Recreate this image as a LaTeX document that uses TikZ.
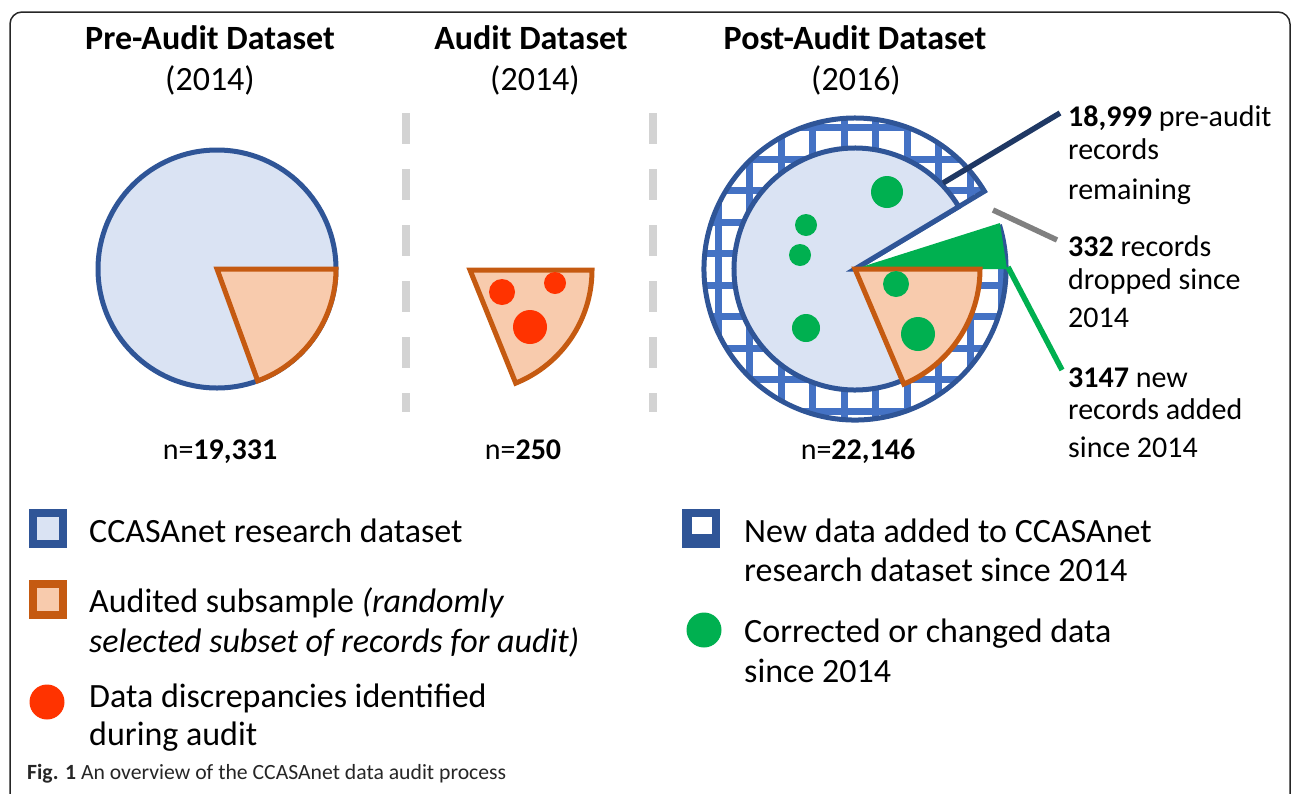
\documentclass[tikz,border=0pt]{standalone}
\usepackage{fontspec}
\setmainfont{Carlito}
\usetikzlibrary{calc}

\definecolor{ccasblue}{HTML}{2F5597}
\definecolor{ccasfill}{HTML}{DAE3F3}
\definecolor{gridblue}{HTML}{4472C4}
\definecolor{audline}{HTML}{C55A11}
\definecolor{audfill}{HTML}{F8CBAD}
\definecolor{discred}{HTML}{FF3300}
\definecolor{chggreen}{HTML}{00B050}
\definecolor{navyline}{HTML}{1F3864}
\definecolor{dropgray}{HTML}{808080}
\definecolor{sepgray}{HTML}{D3D3D3}

\tikzset{
    heading/.style={font=\fontsize{34}{40}\selectfont\bfseries, inner sep=0pt, text height=23.8pt, text depth=3.4pt},
    yearlbl/.style={font=\fontsize{34}{40}\selectfont, inner sep=0pt, text height=23.8pt, text depth=3.4pt},
    countlbl/.style={font=\fontsize{30}{36}\selectfont, inner sep=0pt, text height=21pt, text depth=3pt},
    note/.style={font=\fontsize{30}{36}\selectfont, anchor=west, inner sep=0pt, text height=21pt, text depth=3pt},
    keytext/.style={font=\fontsize{34}{40}\selectfont, anchor=west, inner sep=0pt, text height=23.8pt, text depth=3.4pt},
    keybox/.style={minimum width=30pt, minimum height=31pt, line width=8pt, inner sep=0pt},
    keydot/.style={circle, minimum size=35pt, inner sep=0pt},
    sep/.style={sepgray, line width=8pt, dash pattern=on 31pt off 25pt},
    callout/.style={line width=5.5pt}
}

\begin{document}
\begin{tikzpicture}[x=1pt, y=-1pt]
        \useasboundingbox (0,0) rectangle (1292,793);
        \draw[line width=1.5pt, black!85, rounded corners=12pt] (10,800) -- (10,12) -- (1290,12) -- (1290,800);

        \coordinate (pre) at (217,269);
        \coordinate (aud) at (470,270);
        \coordinate (post) at (855,269);

        \node[heading] (pre-title) at (210,39) {Pre-Audit Dataset};
        \node[yearlbl] (pre-year) at (210,80) {(2014)};
        \node[heading] (aud-title) at (531,39) {Audit Dataset};
        \node[yearlbl] (aud-year) at (535,80) {(2014)};
        \node[heading] (post-title) at (855,39) {Post-Audit Dataset};
        \node[yearlbl] (post-year) at (856,80) {(2016)};

        \filldraw[ccasblue, fill=ccasfill, line width=5pt] (pre) circle[radius=119];
        \filldraw[audline, fill=audfill, line width=5pt] (pre) -- +(0:119) arc[start angle=0, end angle=70, radius=119] -- cycle;

        \coordinate (sepA-top) at (406,113);
        \coordinate (sepA-bot) at (406,412);
        \coordinate (sepB-top) at (653,113);
        \coordinate (sepB-bot) at (653,412);
        \draw[sep] (sepA-top) -- (sepA-bot);
        \draw[sep] (sepB-top) -- (sepB-bot);

        \filldraw[audline, fill=audfill, line width=5pt] (aud) -- +(0:122) arc[start angle=0, end angle=68, radius=122] -- cycle;
        \fill[discred] (502,292) circle[radius=13];
        \fill[discred] (555,283) circle[radius=11];
        \fill[discred] (530,327) circle[radius=17];

        \begin{scope}
            \clip (post) -- +(-31:151) arc[start angle=-31, end angle=-377, radius=151] -- cycle;
            \fill[white] (690,100) rectangle (1020,440);
            \foreach \gx in {0,...,9}
                \draw[gridblue, line width=7pt] ({718+31.5*\gx},100) -- ++(0,340);
            \foreach \gy in {-5,...,4}
                \draw[gridblue, line width=7pt] (690,{285+31.5*\gy}) -- ++(330,0);
        \end{scope}
        \draw[ccasblue, line width=5pt] (post) +(-17:151) arc[start angle=-17, end angle=329, radius=151] -- (post);
        \filldraw[ccasblue, fill=ccasfill, line width=5pt] (post) -- +(-31:121) arc[start angle=-31, end angle=-360, radius=121] -- cycle;
        \fill[chggreen] (post) -- +(0:152) -- +(-17.6:152) -- cycle;
        \filldraw[audline, fill=audfill, line width=5pt] (post) -- +(0:125) arc[start angle=0, end angle=67, radius=125] -- cycle;
        \fill[chggreen] (887,192) circle[radius=16];
        \fill[chggreen] (806,225) circle[radius=11];
        \fill[chggreen] (800,255) circle[radius=11];
        \fill[chggreen] (806,328) circle[radius=14];
        \fill[chggreen] (896,284) circle[radius=13];
        \fill[chggreen] (918,334) circle[radius=17];

        \node[countlbl] (pre-n) at (220,450) {n=\textbf{19,331}};
        \node[countlbl] (aud-n) at (523,450) {n=\textbf{250}};
        \node[countlbl] (post-n) at (858,450) {n=\textbf{22,146}};

        \coordinate (keep-a) at (943,183);
        \coordinate (keep-b) at (1060,113);
        \coordinate (drop-a) at (993,210);
        \coordinate (drop-b) at (1057,240);
        \coordinate (add-a) at (1008,267);
        \coordinate (add-b) at (1062,370);
        \draw[callout, navyline] (keep-a) -- (keep-b);
        \draw[callout, dropgray] (drop-a) -- (drop-b);
        \draw[callout, chggreen] (add-a) -- (add-b);

        \node[note] (keep-1) at (1068,117) {\textbf{18,999} pre-audit};
        \node[note] (keep-2) at (1068,150) {records};
        \node[note] (keep-3) at (1068,190) {remaining};
        \node[note] (drop-1) at (1068,247) {\textbf{332} records};
        \node[note] (drop-2) at (1068,280) {dropped since};
        \node[note] (drop-3) at (1068,318) {2014};
        \node[note] (add-1) at (1068,378) {\textbf{3147} new};
        \node[note] (add-2) at (1068,410) {records added};
        \node[note] (add-3) at (1068,448) {since 2014};

        \node[keybox, draw=ccasblue, fill=ccasfill] (key-ccas) at (48,528.5) {};
        \node[keybox, draw=audline, fill=audfill] (key-aud) at (48,599.5) {};
        \node[keydot, fill=discred] (key-disc) at (47,702) {};
        \node[keybox, draw=ccasblue, fill=ccasblue] (key-new) at (700.5,528.5) {};
        \fill[white] (692,517) rectangle (712,534);
        \node[keydot, fill=chggreen] (key-chg) at (704,630) {};

        \node[keytext] (ccas-1) at (89,532) {CCASAnet research dataset};
        \node[keytext] (aud-1) at (89,602) {Audited subsample \textit{(randomly}};
        \node[keytext] (aud-2) at (89,642) {\textit{selected subset of records for audit)}};
        \node[keytext] (disc-1) at (89,697) {Data discrepancies identified};
        \node[keytext] (disc-2) at (89,735) {during audit};
        \node[keytext] (new-1) at (744,532) {New data added to CCASAnet};
        \node[keytext] (new-2) at (744,571) {research dataset since 2014};
        \node[keytext] (chg-1) at (744,632) {Corrected or changed data};
        \node[keytext] (chg-2) at (744,672) {since 2014};

        \node[anchor=west, inner sep=0pt, text height=15.2pt, text depth=2.2pt, font=\fontsize{21.7}{26}\selectfont, black!85] (caption) at (27,773) {\textbf{Fig. 1} An overview of the CCASAnet data audit process};
\end{tikzpicture}
\end{document}
